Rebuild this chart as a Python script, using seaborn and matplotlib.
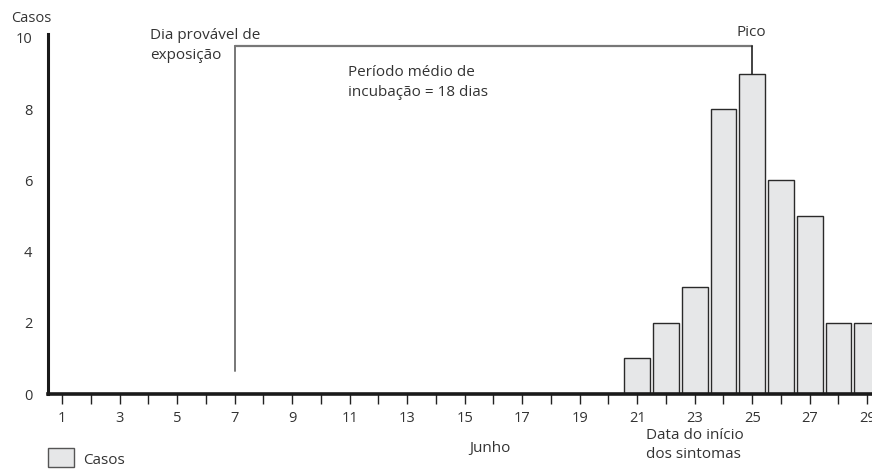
import matplotlib
matplotlib.use("Agg")
import matplotlib.pyplot as plt
import seaborn as sns
import pandas as pd
from matplotlib.patches import Rectangle

# Data
days = [21, 22, 23, 24, 25, 26, 27, 28, 29]
cases = [1, 2, 3, 8, 9, 6, 5, 2, 2]
xtick_days = list(range(1, 30))
xtick_labels = [str(d) if d % 2 == 1 else "" for d in xtick_days]
ytick_vals = [0, 2, 4, 6, 8, 10]
exposure_day = 7
peak_day = 25

sns.set_theme(style="white")
plt.rcParams["font.family"] = ["Open Sans", "DejaVu Sans"]
TXT = "#333333"

W, H = 872, 469
fig = plt.figure(figsize=(W / 100, H / 100), dpi=100)

def fx(px):
    return px / W

def fy(py):
    return 1 - py / H

left_px, right_px = 47.7, 884.5
bottom_px, top_px = 394, 34.4
ax = fig.add_axes([fx(left_px), fy(bottom_px), fx(right_px - left_px), (bottom_px - top_px) / H])

df = pd.DataFrame({"day": days, "cases": cases})
sns.barplot(data=df, x="day", y="cases", native_scale=True, width=0.9,
            color="#e6e7e8", edgecolor="#2a2a2a", linewidth=1.0, saturation=1,
            ax=ax, zorder=2)

ax.set_xlim(0.5, 29.6)
ax.set_ylim(0, 10.1)
ax.set_xticks(xtick_days)
ax.set_xticklabels(xtick_labels, fontsize=10.5, color=TXT)
ax.set_yticks(ytick_vals)
ax.set_yticklabels([str(v) for v in ytick_vals], fontsize=10.5, color=TXT)
ax.set_xlabel("")
ax.set_ylabel("")
ax.tick_params(axis="x", direction="out", length=7, width=1.0, color="#222222", pad=5, bottom=True)
ax.tick_params(axis="y", length=0, pad=11)

for s in ["top", "right"]:
    ax.spines[s].set_visible(False)
ax.spines["left"].set_linewidth(2.2)
ax.spines["left"].set_color("#1a1a1a")
ax.spines["bottom"].set_linewidth(2.6)
ax.spines["bottom"].set_color("#1a1a1a")
ax.spines["bottom"].set_zorder(5)

# Bracket annotation
top_y = 9.77
peak_val = cases[days.index(peak_day)]
ax.plot([exposure_day, exposure_day], [0.65, top_y], color="#777777", lw=1.4, zorder=3, clip_on=False)
ax.plot([exposure_day, peak_day], [top_y, top_y], color="#777777", lw=1.6, zorder=3, clip_on=False)
ax.plot([peak_day, peak_day], [top_y, peak_val], color="#222222", lw=1.2, zorder=3, clip_on=False)

fs = 11
fig.text(fx(31), fy(18), "Casos", ha="center", va="center", fontsize=10.5, color=TXT)
fig.text(fx(150), fy(28), "Dia provável de\nexposição", ha="left", va="top",
         fontsize=fs, color=TXT, linespacing=1.45)
fig.text(fx(348), fy(65), "Período médio de\nincubação = 18 dias", ha="left", va="top",
         fontsize=fs, color=TXT, linespacing=1.45)
fig.text(fx(751), fy(33), "Pico", ha="center", va="center", fontsize=fs, color=TXT)
fig.text(fx(490), fy(448), "Junho", ha="center", va="center", fontsize=fs, color=TXT)
fig.text(fx(646), fy(428), "Data do início\ndos sintomas", ha="left", va="top",
         fontsize=fs, color=TXT, linespacing=1.4)

# Legend
fig.patches.append(Rectangle((fx(47.5), fy(467)), fx(26), (467 - 448) / H,
                             transform=fig.transFigure, facecolor="#e6e7e8",
                             edgecolor="#555555", linewidth=1.0))
fig.text(fx(83), fy(460), "Casos", ha="left", va="center", fontsize=fs, color=TXT)

fig.savefig("out.png", dpi=100)
